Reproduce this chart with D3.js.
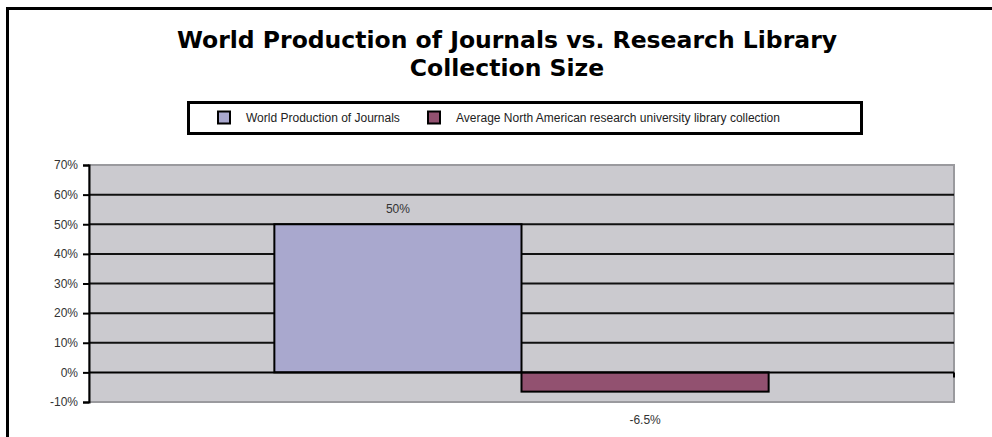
<!DOCTYPE html>
<html>
<head>
<meta charset="utf-8">
<script src="https://cdn.jsdelivr.net/npm/d3@7"></script>
<style>
  html, body { margin: 0; padding: 0; background: #fff; }
  svg { display: block; }
</style>
</head>
<body>
<svg id="chart" width="992" height="437"></svg>
<script>
// Chart data
const titleLines = ["World Production of Journals vs. Research Library", "Collection Size"];
const seriesNames = ["World Production of Journals", "Average North American research university library collection"];
const seriesValues = [50, -6.5];
const valueLabels = ["50%", "-6.5%"];
const seriesColors = ["#a9a8ce", "#925170"];
const tickValues = [-10, 0, 10, 20, 30, 40, 50, 60, 70];
const tickLabels = ["-10%", "0%", "10%", "20%", "30%", "40%", "50%", "60%", "70%"];

const svg = d3.select("#chart");
const font = "'Liberation Sans', Arial, sans-serif";

// Outer chart frame
svg.append("path")
  .attr("d", "M7.5,440 L7.5,8.5 L995,8.5")
  .attr("fill", "none").attr("stroke", "#000").attr("stroke-width", 3);

// Title
const title = svg.append("text")
  .attr("text-anchor", "middle")
  .attr("font-family", "'DejaVu Sans', Verdana, sans-serif")
  .attr("font-weight", "bold").attr("font-size", 23.5).attr("fill", "#000");
titleLines.forEach((t, i) => {
  title.append("tspan").attr("x", 507).attr("y", 48 + i * 28).text(t);
});

// Plot area
const plot = { left: 89, right: 954, top: 165, bottom: 402 };
const y = d3.scaleLinear().domain([-10, 70]).range([plot.bottom, plot.top]);
// Gap width of 150% of a bar on each side of the two-bar cluster
const xCat = d3.scaleBand().domain(["all"]).range([plot.left, plot.right]).paddingInner(0).paddingOuter(0.375);
const xSeries = d3.scaleBand().domain(seriesNames).range([0, xCat.bandwidth()]).padding(0);

svg.append("rect")
  .attr("x", plot.left).attr("y", plot.top)
  .attr("width", plot.right - plot.left).attr("height", plot.bottom - plot.top)
  .attr("fill", "#cbcacf").attr("stroke", "#9a9a9e").attr("stroke-width", 2);

// Horizontal gridlines
svg.append("g")
  .selectAll("line")
  .data(tickValues.filter(v => v > 0 && v < 70))
  .join("line")
  .attr("x1", plot.left).attr("x2", plot.right)
  .attr("y1", d => y(d)).attr("y2", d => y(d))
  .attr("stroke", "#111").attr("stroke-width", 2);

// Bars
svg.append("g")
  .selectAll("rect")
  .data(seriesValues)
  .join("rect")
  .attr("x", (d, i) => xCat("all") + xSeries(seriesNames[i]))
  .attr("width", xSeries.bandwidth())
  .attr("y", d => y(Math.max(0, d)))
  .attr("height", d => Math.abs(y(d) - y(0)))
  .attr("fill", (d, i) => seriesColors[i])
  .attr("stroke", "#000").attr("stroke-width", 2);

// Value labels
svg.append("g")
  .selectAll("text")
  .data(seriesValues)
  .join("text")
  .attr("x", (d, i) => xCat("all") + xSeries(seriesNames[i]) + xSeries.bandwidth() / 2)
  .attr("y", d => d >= 0 ? y(d) - 11 : y(d) + 32)
  .attr("text-anchor", "middle")
  .attr("font-family", font).attr("font-size", 12).attr("fill", "#333")
  .text((d, i) => valueLabels[i]);

// Category axis at zero
svg.append("line")
  .attr("x1", plot.left).attr("x2", plot.right)
  .attr("y1", y(0)).attr("y2", y(0))
  .attr("stroke", "#000").attr("stroke-width", 2);
svg.append("line")
  .attr("x1", plot.right).attr("x2", plot.right)
  .attr("y1", y(0)).attr("y2", y(0) + 5)
  .attr("stroke", "#000").attr("stroke-width", 2);

// Value axis
const yAxis = d3.axisLeft(y)
  .tickValues(tickValues)
  .tickFormat((d, i) => tickLabels[i])
  .tickSize(6).tickPadding(5);
const yg = svg.append("g").attr("transform", `translate(${plot.left},0)`).call(yAxis);
yg.select(".domain").attr("stroke", "#000").attr("stroke-width", 2);
yg.selectAll(".tick line").attr("stroke", "#000").attr("stroke-width", 2);
yg.selectAll(".tick text").attr("font-family", font).attr("font-size", 12).attr("fill", "#333");

// Legend
const legend = svg.append("g");
legend.append("rect")
  .attr("x", 188.5).attr("y", 102.5).attr("width", 673).attr("height", 31)
  .attr("fill", "#fff").attr("stroke", "#000").attr("stroke-width", 3);
const legendX = [218, 428];
seriesNames.forEach((name, i) => {
  legend.append("rect")
    .attr("x", legendX[i]).attr("y", 111.5).attr("width", 12).attr("height", 12)
    .attr("fill", seriesColors[i]).attr("stroke", "#000").attr("stroke-width", 2);
  legend.append("text")
    .attr("x", legendX[i] + 28).attr("y", 122)
    .attr("font-family", font).attr("font-size", 12).attr("fill", "#222")
    .text(name);
});
</script>
</body>
</html>
